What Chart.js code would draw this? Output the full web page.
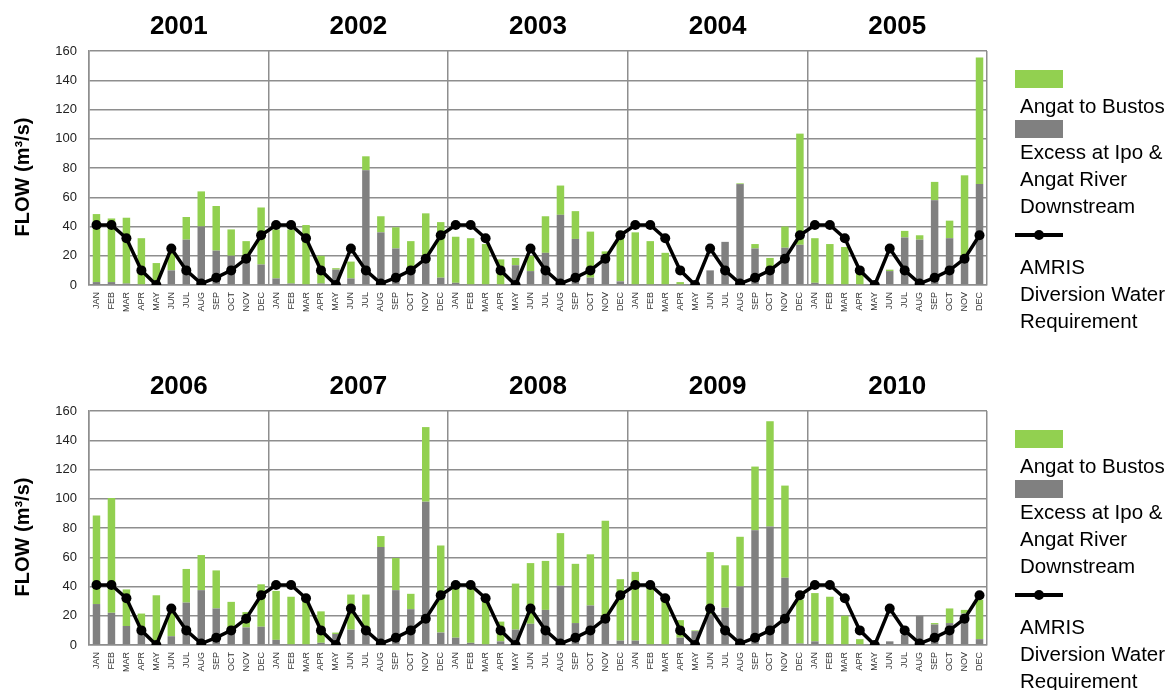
<!DOCTYPE html>
<html>
<head>
<meta charset="utf-8">
<title>AMRIS flow 2001-2010</title>
<script src="https://cdn.jsdelivr.net/npm/chart.js@4/dist/chart.umd.min.js"></script>
<style>
  html, body { margin: 0; padding: 0; background: #fff; width: 1171px; height: 690px; overflow: hidden;
    font-family: "Liberation Sans", Arial, sans-serif; }
  canvas.panel { position: absolute; left: 0; }
  .box { position: absolute; left: 1015px; width: 48px; height: 18px; }
  .txt { position: absolute; left: 1020px; font-size: 20.5px; line-height: 27px; color: #000; white-space: nowrap; }
  .sym { position: absolute; left: 1015px; width: 48px; height: 3.5px; background: #000; }
  .dot { position: absolute; left: 1034px; width: 10px; height: 10px; border-radius: 50%; background: #000; }
</style>
</head>
<body>
<canvas id="top" class="panel" width="1171" height="345" style="top:0px"></canvas>
<canvas id="bottom" class="panel" width="1171" height="345" style="top:360px"></canvas>

<div id="legendTop"></div>
<div id="legendBottom"></div>

<script>
// Tick labels and year headings
const monthTicks = ['JAN','FEB','MAR','APR','MAY','JUN','JUL','AUG','SEP','OCT','NOV','DEC'];
const yearsTop = ['2001','2002','2003','2004','2005'];
const yearsBottom = ['2006','2007','2008','2009','2010'];

// Monthly flows, m3/s — 2001 to 2005
const excessTop = [
  2, 2, 1, 0.5, 0, 10, 31, 40, 23.5, 20, 17, 14,
  4.5, 1, 0, 1, 10.5, 4.5, 78.5, 36, 25, 8, 15, 5,
  1.5, 0, 0, 0, 13.5, 9.5, 22, 48, 31.5, 5, 21, 2.5,
  0, 0, 0, 0, 0, 10, 29.5, 69, 25, 8, 25.5, 27.5,
  1.5, 0, 0, 0, 0, 9.5, 32.5, 31, 58, 32, 18, 69
];
const angatTop = [
  46.5, 43.5, 45, 31.5, 15, 12, 15.5, 24, 30.5, 18, 13, 39,
  33.5, 37, 41, 19, 1, 11.5, 9.5, 11, 14.5, 22, 34, 38,
  31.5, 32, 28, 17.5, 5, 10.5, 25, 20, 19, 31.5, 2, 34.5,
  36, 30, 22, 2, 0, 0, 0, 0.5, 3, 10.5, 14.5, 76,
  30.5, 28, 26, 8, 0, 1, 4.5, 3, 12.5, 12, 57, 86.5
];

// Monthly flows, m3/s — 2006 to 2010
const excessBottom = [
  28, 22, 13, 8, 0, 6, 29, 37.5, 25, 8, 12, 12.5,
  3.5, 0, 0, 1.5, 7.5, 10.5, 8, 67, 37.5, 24.5, 98, 8.5,
  5, 1.5, 0, 2.5, 10.5, 14.5, 24, 40.5, 15, 27, 16, 3,
  3, 0, 0, 5, 9.5, 21, 25.5, 40, 78.5, 81, 46, 1,
  2.5, 0, 0, 0, 0, 2.5, 7, 20, 14, 15, 21.5, 4
];
const angatBottom = [
  60.5, 78.5, 25, 13.5, 34, 16, 23, 24, 26, 21.5, 10.5, 29,
  33.5, 33, 30, 21.5, 1, 24, 26.5, 7.5, 22, 10.5, 51, 59.5,
  38, 38.5, 30, 13.5, 31.5, 41.5, 33.5, 36, 40.5, 35, 69, 42,
  47, 41, 30, 12, 0.5, 42.5, 29, 34, 43.5, 72, 63, 30,
  33, 33, 20, 4, 0, 0, 0, 0, 1, 10, 2.5, 27
];

// AMRIS diversion water requirement, m3/s, same monthly pattern each year
const amrisRequirement = [
  41, 41, 32, 10, 0, 25, 10, 1, 5, 10, 18, 34,
  41, 41, 32, 10, 0, 25, 10, 1, 5, 10, 18, 34,
  41, 41, 32, 10, 0, 25, 10, 1, 5, 10, 18, 34,
  41, 41, 32, 10, 0, 25, 10, 1, 5, 10, 18, 34,
  41, 41, 32, 10, 0, 25, 10, 1, 5, 10, 18, 34
];

const FONT = '"Liberation Sans", Arial, sans-serif';
const GRID = '#8e8e8e';
const GREEN = '#92d050';
const GREY = '#808080';

// Year heading over each block of twelve months, plus the vertical axis title
const panelText = {
  id: 'panelText',
  afterDraw(chart, args, opts) {
    const x = chart.scales.x;
    const area = chart.chartArea;
    const ctx = chart.ctx;
    ctx.save();
    ctx.font = 'bold 26px ' + FONT;
    ctx.fillStyle = '#000';
    ctx.textAlign = 'center';
    ctx.textBaseline = 'alphabetic';
    opts.years.forEach((yr, i) => {
      const cx = (x.getPixelForValue(i * 12) + x.getPixelForValue(i * 12 + 11)) / 2;
      ctx.fillText(yr, cx, area.top - 17);
    });
    ctx.translate(23, (area.top + area.bottom) / 2 + 9);
    ctx.rotate(-Math.PI / 2);
    ctx.font = 'bold 20px ' + FONT;
    ctx.textBaseline = 'middle';
    ctx.fillText(opts.axisTitle, 0, 0);
    ctx.restore();
  }
};

function makePanel(canvasId, years, excess, angat) {
  const labels = [];
  years.forEach(() => monthTicks.forEach(m => labels.push(m)));
  return new Chart(document.getElementById(canvasId), {
    type: 'bar',
    data: {
      labels,
      datasets: [
        {
          type: 'line',
          label: 'AMRIS Diversion Water Requirement',
          data: amrisRequirement,
          stack: 'requirement',
          borderColor: '#000',
          backgroundColor: '#000',
          borderWidth: 3.5,
          pointRadius: 5,
          pointBackgroundColor: '#000',
          pointBorderWidth: 0,
          tension: 0,
          order: 0
        },
        {
          label: 'Excess at Ipo & Angat River Downstream',
          data: excess,
          backgroundColor: GREY,
          stack: 'flow',
          barPercentage: 0.5,
          categoryPercentage: 1,
          order: 1
        },
        {
          label: 'Angat to Bustos',
          data: angat,
          backgroundColor: GREEN,
          stack: 'flow',
          barPercentage: 0.5,
          categoryPercentage: 1,
          order: 1
        }
      ]
    },
    options: {
      responsive: false,
      maintainAspectRatio: false,
      animation: false,
      layout: { padding: { top: 51, right: 184, left: 0, bottom: 0 } },
      plugins: {
        legend: { display: false },
        tooltip: { enabled: false },
        panelText: { years, axisTitle: 'FLOW (m³/s)' }
      },
      scales: {
        x: {
          stacked: true,
          afterFit: s => { s.height = 60; },
          grid: {
            drawTicks: false,
            lineWidth: 1.5,
            color: c => (c.index === undefined || c.index % 12 === 0) ? GRID : 'rgba(0,0,0,0)'
          },
          border: { display: true, color: GRID, width: 1.5 },
          ticks: {
            autoSkip: false,
            maxRotation: 90,
            minRotation: 90,
            padding: 7,
            color: '#333',
            font: { family: FONT, size: 9 }
          }
        },
        y: {
          stacked: true,
          min: 0,
          max: 160,
          afterFit: s => { s.width = 89; },
          grid: { drawTicks: false, color: GRID, lineWidth: 1.5 },
          border: { display: true, color: GRID, width: 1.5 },
          ticks: {
            stepSize: 20,
            padding: 12,
            color: '#222',
            font: { family: FONT, size: 13 }
          }
        }
      }
    },
    plugins: [panelText]
  });
}

makePanel('top', yearsTop, excessTop, angatTop);
makePanel('bottom', yearsBottom, excessBottom, angatBottom);

// Side legend, one per panel
function buildLegend(id, dy) {
  const el = document.getElementById(id);
  const parts = [
    ['box', 70, 'background:' + GREEN],
    ['txt', 91.6, '', 'Angat to Bustos'],
    ['box', 120, 'background:' + GREY],
    ['txt', 137.6, '', 'Excess at Ipo &amp;<br>Angat River<br>Downstream'],
    ['sym', 233.3, ''],
    ['dot', 230, ''],
    ['txt', 252.6, '', 'AMRIS<br>Diversion Water<br>Requirement']
  ];
  el.innerHTML = parts.map(p =>
    '<div class="' + p[0] + '" style="top:' + (p[1] + dy) + 'px;' + p[2] + '">' + (p[3] || '') + '</div>'
  ).join('');
}
buildLegend('legendTop', 0);
buildLegend('legendBottom', 360);
</script>
</body>
</html>
